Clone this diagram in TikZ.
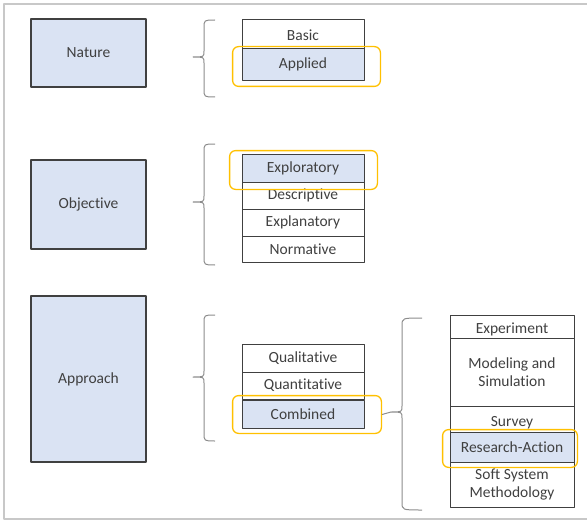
\documentclass[tikz,border=0pt]{standalone}
\usepackage{fontspec}
\setmainfont{Carlito}[RawFeature=-liga]
\usetikzlibrary{fit}
\definecolor{boxblue}{HTML}{DAE3F3}
\definecolor{boxline}{HTML}{404040}
\definecolor{hlyellow}{HTML}{FFC000}
\definecolor{bracegray}{HTML}{8C8C8C}
\definecolor{framegray}{HTML}{C8C8C8}
\begin{document}
\begin{tikzpicture}[x=1pt,y=-1pt,line join=round,
  every node/.style={font=\fontsize{15.5}{18}\selectfont,text=boxline},
  cat/.style={draw=boxline,line width=1.5pt,fill=boxblue,minimum width=115pt,inner sep=0pt},
  cell/.style={draw=boxline,line width=.8pt,minimum width=122pt,inner sep=0pt,align=center},
  wcell/.style={cell,minimum width=124pt},
  chosen/.style={fill=boxblue},
  low/.style={text height=17pt,text depth=3pt},
  hl/.style={draw=hlyellow,line width=1.3pt,rounded corners=6pt,inner sep=0pt},
  brace/.style={draw=bracegray,line width=1pt}]
  \useasboundingbox (0,0) rectangle (587,527);
  \draw[framegray,line width=1.2pt] (587,4) -- (4,4) -- (4,519) -- (587,519);
  % categories
  \node[cat,minimum height=68pt] (nature) at (88.5,53) {Nature};
  \node[cat,minimum height=89pt] (objective) at (88.5,204.5) {Objective};
  \node[cat,minimum height=166pt] (approach) at (88.5,379) {Approach};
  % options
  \node[cell,low,minimum height=29pt] (basic) at (303,33.5) {Basic};
  \node[cell,chosen,minimum height=32pt] (applied) at (303,64) {Applied};
  \node[cell,chosen,minimum height=28pt] (exploratory) at (303,168) {Exploratory};
  \node[cell,minimum height=27pt] (descriptive) at (303,195.5) {Descriptive};
  \node[cell,minimum height=27pt] (explanatory) at (303,222.5) {Explanatory};
  \node[cell,minimum height=26pt] (normative) at (303,249) {Normative};
  \node[cell,minimum height=28pt] (qualitative) at (303,358) {Qualitative};
  \node[cell,minimum height=27pt] (quantitative) at (303,385.5) {Quantitative};
  \node[cell,chosen,minimum height=28pt] (combined) at (303,414) {Combined};
  % methods
  \node[wcell,low,minimum height=23pt] (experiment) at (512,326.5) {Experiment};
  \node[wcell,minimum height=68pt] (modeling) at (512,372) {Modeling and\\Simulation};
  \node[wcell,low,minimum height=26pt] (survey) at (512,419) {Survey};
  \node[wcell,chosen,minimum height=30pt] (resaction) at (512,447) {Research-Action};
  \node[wcell,minimum height=45pt] (softsys) at (512,484.5) {Soft System\\Methodology};
  % highlights
  \node[hl,fit={([shift={(-9pt,1pt)}]applied.north west) ([shift={(16pt,-6pt)}]applied.south east)}] (hlapplied) {};
  \node[hl,fit={([shift={(-12pt,3pt)}]exploratory.north west) ([shift={(13pt,-7pt)}]exploratory.south east)}] (hlexploratory) {};
  \node[hl,fit={([shift={(-9pt,4pt)}]combined.north west) ([shift={(17pt,-5pt)}]combined.south east)}] (hlcombined) {};
  \node[hl,fit={([shift={(-7pt,2pt)}]resaction.north west) ([shift={(3pt,-5pt)}]resaction.south east)}] (hlresaction) {};
  % braces
  \foreach \x/\w/\t/\m/\b/\n in {204/11/20/57/97/1,204/11/144/202/265/2,204/11/315/377/441/3,402/20/318/412/510/4}{
    \draw[brace] (\x+\w,\t) .. controls (\x,\t) .. (\x,\t+8) -- (\x,\m-6)
      .. controls (\x,\m) .. (\x-11,\m) coordinate (tip\n)
      .. controls (\x,\m) .. (\x,\m+6) -- (\x,\b-8) .. controls (\x,\b) .. (\x+\w,\b);
  }
  \draw[brace] (hlcombined.east) -- (tip4);
\end{tikzpicture}
\end{document}
